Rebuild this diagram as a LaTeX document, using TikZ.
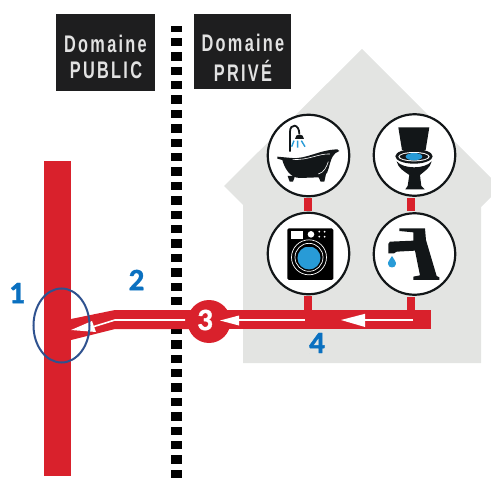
\documentclass[tikz,border=0pt]{standalone}
\usepackage{fontspec}
\usetikzlibrary{shapes.geometric}
\setmainfont{Liberation Sans}
\newfontfamily\numfont{Carlito}[BoldFeatures={FakeBold=1.2}]
\newfontfamily\headfont{Liberation Sans}[LetterSpace=14]
\definecolor{pipered}{RGB}{217,33,44}
\definecolor{housegray}{RGB}{227,228,226}
\definecolor{boxblack}{RGB}{30,30,31}
\definecolor{headtext}{RGB}{226,226,226}
\definecolor{numblue}{RGB}{10,112,192}
\definecolor{ringblue}{RGB}{47,82,143}
\definecolor{waterblue}{RGB}{40,155,215}
\definecolor{iconblack}{RGB}{18,22,24}
\tikzset{
  headlabel/.style={text=headtext,inner sep=0pt,font=\headfont\bfseries\fontsize{24}{24}\selectfont},
  numlabel/.style={text=numblue,inner sep=0pt,font=\numfont\bfseries\fontsize{31}{31}\selectfont},
  fixture/.style={circle,draw=iconblack,line width=2.2pt,fill=white,minimum size=81.5pt,inner sep=0pt},
  pipe/.style={draw=pipered,line width=8pt},
  flowline/.style={draw=white,line width=1.6pt},
  icon/.style={fill=iconblack,draw=none},
  dash block/.style={fill=black,draw=none,minimum width=11pt,minimum height=8.5pt,inner sep=0pt}
}
\begin{document}
\begin{tikzpicture}[x=1pt,y=-1pt]
\useasboundingbox (0,0) rectangle (491,479);
% house
\fill[housegray] (362,49) -- (491,178) -- (491,197) -- (481,207) -- (481,363) -- (243,363) -- (243,205) -- (224,186) -- cycle;
% boundary
\foreach \k in {1,...,31} \node[dash block] at (176,{474-14.4*\k}) {};
\node[dash block] at (176,474) {};
\fill[white] (170,20) rectangle (183,26);
% heading boxes
\fill[boxblack] (56,14) rectangle (155,91);
\fill[boxblack] (194,14) rectangle (291,89);
\node[headlabel] (d1) at (105.5,43.5) {\scalebox{0.68}[1]{Domaine}};
\node[headlabel] (p1) at (106,70.5) {\scalebox{0.68}[1]{PUBLIC}};
\node[headlabel] (d2) at (243,43) {\scalebox{0.68}[1]{Domaine}};
\node[headlabel] (p2) at (243,70.5) {\scalebox{0.68}[1]{PRIVÉ}};
% main
\fill[pipered] (44,161) rectangle (71,476);
% branch
\fill[pipered] (71,319) -- (115,310) -- (200,310) -- (200,329) -- (115,329) -- (71,340) -- cycle;
\fill[pipered] (200,310) rectangle (431,329);
% fixtures
\node[fixture] (bath) at (308.5,155.5) {};
\node[fixture] (toilet) at (414.5,155) {};
\node[fixture] (washer) at (308.5,253.5) {};
\node[fixture] (tap) at (414.5,254) {};
\node[circle,fill=pipered,minimum size=43pt,inner sep=0pt] (three) at (209,321.5) {};
\coordinate (junctionA) at (308,312);
\coordinate (junctionB) at (410.5,312);
\draw[pipe] ([xshift=-0.5pt,yshift=-1pt]bath.south) -- ([xshift=-0.5pt,yshift=1pt]washer.north);
\draw[pipe] ([xshift=-4pt,yshift=-1.5pt]toilet.south) -- ([xshift=-4pt,yshift=1.5pt]tap.north);
\draw[pipe] ([xshift=-0.5pt,yshift=-1pt]washer.south) -- (junctionA);
\draw[pipe] ([xshift=-4pt,yshift=-1.5pt]tap.south) -- (junctionB);
% flow arrows
\coordinate (endA) at (413,320);
\coordinate (baseA) at (365,320);
\coordinate (startB) at (305,320);
\coordinate (baseB) at (239,320);
\coordinate (startC) at (185,320);
\coordinate (bendC) at (115,320);
\coordinate (baseC) at (94,326.5);
\draw[flowline,line width=2.2pt] (endA) -- (baseA);
\fill[white] (365,313.8) -- (341,320) -- (365,327) -- cycle;
\draw[flowline,line width=1.5pt] (startB) -- (baseB);
\fill[white] (239,315.5) -- (220,320.5) -- (239,325.5) -- cycle;
\draw[flowline] (startC) -- (bendC) -- (baseC);
\fill[white] (92,321) -- (71,330) -- (96,332) -- cycle;
% bath and toilet icons
\begin{scope}[shift={(250,100)},x=0.3333pt,y=-0.3333pt]
\fill[icon] (82,170) -- (125,174) .. controls (170,178) and (205,150) .. (262,148) -- (268,153) .. controls (248,160) and (244,175) .. (236,205) .. controls (232,225) and (220,232) .. (205,232) -- (150,234) .. controls (120,234) and (104,205) .. (97,180) -- (82,176) -- cycle;
\fill[icon] (113,228) -- (119,245) -- (129,245) -- (135,228) -- cycle;
\fill[icon] (203,226) -- (212,245) -- (223,245) -- (228,222) -- cycle;
\draw[white,line width=0.6pt] (128,178) .. controls (175,182) and (205,160) .. (240,162);
\draw[white,line width=0.6pt] (205,222) .. controls (222,218) and (230,200) .. (235,185);
\draw[iconblack,line width=1.8pt] (120,155) -- (120,95) .. controls (120,70) and (148,70) .. (148,102);
\fill[icon] (135,116) .. controls (135,100) and (161,100) .. (161,116) -- cycle;
\draw[waterblue,line width=1.4pt] (132,122) -- (125,140) (143,122) -- (143,143) (154,122) -- (165,140);
\fill[icon] (445,82) -- (538,82) -- (527,150) -- (456,150) -- cycle;
\fill[icon] (440,184) .. controls (460,208) and (525,208) .. (545,184) .. controls (540,205) and (525,212) .. (510,225) -- (514,258) -- (524,268) -- (466,268) -- (473,258) -- (478,225) .. controls (460,212) and (445,205) .. (440,184) -- cycle;
\fill[icon] (492,169) ellipse[x radius=56,y radius=22];
\fill[white] (492,170) ellipse[x radius=47,y radius=14];
\fill[icon] (492,170) ellipse[x radius=43,y radius=11];
\fill[waterblue] (492,170) ellipse[x radius=25,y radius=11];
\end{scope}
% washer and tap icons
\begin{scope}[shift={(250,200)},x=0.3333pt,y=-0.3333pt]
\fill[black,rounded corners=1.5pt] (112,85) rectangle (250,240);
\fill[white] (122,93) rectangle (160,118);
\fill[white] (183,103) circle[radius=3.3pt];
\foreach \px/\py in {208/95,224/95,208/110,224/110} \fill[white] (\px,\py) circle[radius=1pt];
\draw[white,line width=0.7pt] (177,172) circle[radius=17.5pt];
\draw[white,line width=0.7pt] (177,172) circle[radius=14pt];
\begin{scope}
\clip (130,144) rectangle (225,215);
\fill[waterblue] (177,174) circle[radius=11.5pt];
\end{scope}
\fill[icon] (415,132) -- (420,125) -- (490,122) -- (490,97) -- (448,93) -- (448,85) -- (525,85) -- (528,120) -- (560,228) -- (568,232) -- (568,240) -- (490,240) -- (490,230) -- (510,226) -- (495,152) -- (440,155) -- (432,160) -- (415,160) -- cycle;
\fill[waterblue] (426,168) .. controls (432,178) and (439,186) .. (438,192) .. controls (436,206) and (416,206) .. (414,192) .. controls (413,186) and (420,178) .. (426,168) -- cycle;
\end{scope}
% ellipse
\node[ellipse,draw=ringblue,line width=2pt,minimum width=56pt,minimum height=74pt,inner sep=0pt] (ring) at (61.5,325.5) {};
% numbers
\node[numlabel] (n1) at (17,293) {1};
\node[numlabel] (n2) at (136.5,280) {2};
\node[numlabel,text=white] (n3) at (205,320) {3};
\node[numlabel] (n4) at (317,343) {4};
\end{tikzpicture}
\end{document}
